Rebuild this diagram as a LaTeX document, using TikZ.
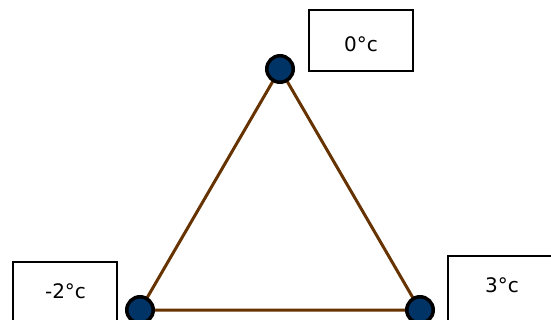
\documentclass[tikz,border=0pt]{standalone}
\usepackage{fontspec}
\setmainfont{DejaVu Sans}
\usepackage{tikz}
\usetikzlibrary{
  arrows.meta,
  positioning,
  calc
}
\definecolor{edgebrown}{RGB}{102,51,0}
\definecolor{vertexblue}{RGB}{0,51,102}

\begin{document}
\begin{tikzpicture}[
        x=1pt, y=-1pt,
        vertex/.style={circle, draw=black, fill=vertexblue, line width=3.5pt,
            minimum size=26.5pt, inner sep=0pt},
        tempbox/.style={rectangle, draw=black, line width=2pt,
            minimum width=104pt, minimum height=61pt, anchor=north west},
        templabel/.style={font=\fontsize{20}{24}\selectfont},
        edge/.style={edgebrown, line width=3pt}
    ]
        \useasboundingbox (0,0) rectangle (551,320);
        % Caixas de temperatura
        \node[tempbox] (boxtop) at (308,9) {};
        \node[tempbox, minimum height=75pt] (boxleft) at (12,261) {};
        \node[tempbox, minimum height=75pt] (boxright) at (447,255) {};
        \node[templabel] (labtop) at (361,44) {0°c};
        \node[templabel] (lableft) at (65.5,291) {-2°c};
        \node[templabel] (labright) at (502,285) {3°c};
        % Vértices
        \coordinate (ptop) at (280,69);
        \coordinate (pleft) at (140,310);
        \coordinate (pright) at (420,310);
        % Arestas
        \draw[edge] (ptop) -- (pleft) -- (pright) -- cycle;
        \foreach \v in {ptop, pleft, pright} {
            \node[vertex] (n\v) at (\v) {};
        }
    \end{tikzpicture}
\end{document}
